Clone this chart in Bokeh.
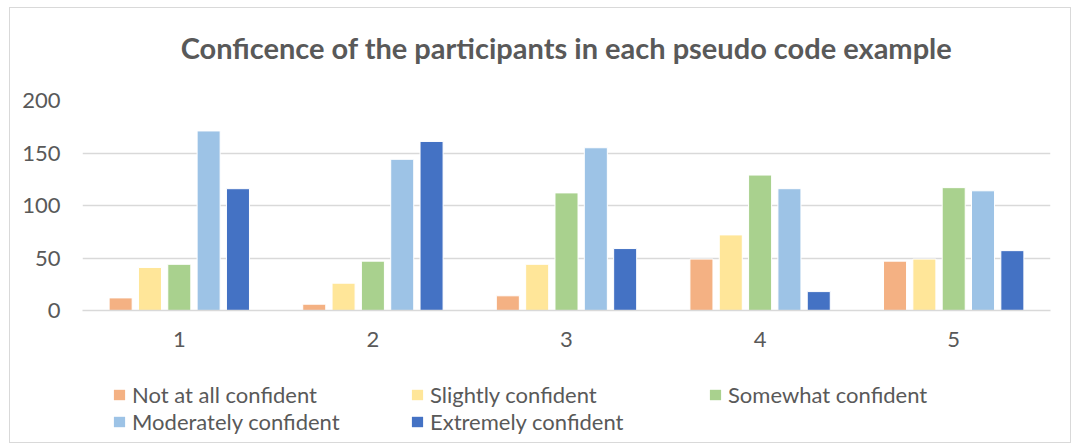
from bokeh.plotting import figure
from bokeh.models import (ColumnDataSource, FactorRange, Legend, LegendItem, FixedTicker,
                          Range1d, Title)
from bokeh.layouts import column
from bokeh.transform import dodge
from bokeh.embed import file_html
from bokeh.resources import INLINE

categories = ["1", "2", "3", "4", "5"]
series_names = ["Not at all confident", "Slightly confident", "Somewhat confident",
                "Moderately confident", "Extremely confident"]
not_at_all = [12, 6, 14, 49, 47]
slightly = [41, 26, 44, 72, 49]
somewhat = [44, 47, 112, 129, 117]
moderately = [171, 144, 155, 116, 114]
extremely = [116, 161, 59, 18, 57]
y_ticks = [0, 50, 100, 150, 200]
title_text = "Conficence of the participants in each pseudo code example"

colors = ["#F4B183", "#FFE699", "#A9D18E", "#9DC3E6", "#4472C4"]
keys = ["s0", "s1", "s2", "s3", "s4"]
FONT = "Lato"
TXT = "#595959"

source = ColumnDataSource(dict(cat=categories, s0=not_at_all, s1=slightly, s2=somewhat,
                               s3=moderately, s4=extremely))

x_range = FactorRange(*categories)
p = figure(width=1060, height=360, x_range=x_range, y_range=(0, 200),
           output_backend="svg", toolbar_location=None,
           min_border_left=72, min_border_right=20, min_border_top=92, min_border_bottom=58)

# spacer panel between frame and title, then the title itself (stacked outward)
p.add_layout(Title(text=" ", text_font_size="10px", standoff=18), "above")
p.add_layout(Title(text=title_text, text_font=FONT, text_font_size="29px",
                   text_font_style="bold", text_color=TXT, align="center", standoff=10),
             "above")

step = 0.1515
for i, key in enumerate(keys):
    p.vbar(x=dodge("cat", (i - 2) * step, range=x_range), top=key, width=0.119,
           source=source, fill_color=colors[i], line_color="white", line_width=1)

p.outline_line_color = None
p.xgrid.grid_line_color = None
p.ygrid.grid_line_color = "#D9D9D9"
p.ygrid.grid_line_width = 1.5

p.yaxis.ticker = FixedTicker(ticks=y_ticks)
p.yaxis.axis_line_color = None
p.yaxis.major_tick_line_color = None
p.yaxis.minor_tick_line_color = None
p.yaxis.major_label_text_font = FONT
p.yaxis.major_label_text_font_size = "22px"
p.yaxis.major_label_text_color = TXT
p.yaxis.major_label_standoff = 16

p.xaxis.axis_line_color = "#D9D9D9"
p.xaxis.axis_line_width = 1.5
p.xaxis.major_tick_line_color = None
p.xaxis.major_label_text_font = FONT
p.xaxis.major_label_text_font_size = "22px"
p.xaxis.major_label_text_color = TXT
p.xaxis.major_label_standoff = 15

# legend strip (same series, drawn outside its visible y range so only the legend shows)
p2 = figure(width=1060, height=74, x_range=x_range, y_range=Range1d(1000, 1001),
            output_backend="svg", toolbar_location=None, min_border=0,
            x_axis_type=None, y_axis_type=None)
p2.outline_line_color = None
p2.grid.visible = False
leg_renderers = [p2.vbar(x="cat", top=key, width=0.1, source=source,
                         fill_color=colors[i], line_color=None)
                 for i, key in enumerate(keys)]
items = [LegendItem(label=series_names[i], renderers=[leg_renderers[i]]) for i in range(5)]
legend = Legend(items=items, location=(30, 7), orientation="horizontal", ncols=3,
                glyph_width=14, glyph_height=13, label_standoff=6, label_width=278,
                label_height=26, spacing=0, padding=0, margin=0,
                border_line_color=None, background_fill_alpha=0,
                label_text_font=FONT, label_text_font_size="22px", label_text_color=TXT)
p2.add_layout(legend, "center")

layout = column(p, p2, spacing=0,
                styles={"border": "1px solid #D9D9D9", "margin-left": "9px", "margin-top": "7px"})

open("out.html", "w").write(file_html(layout, INLINE))
